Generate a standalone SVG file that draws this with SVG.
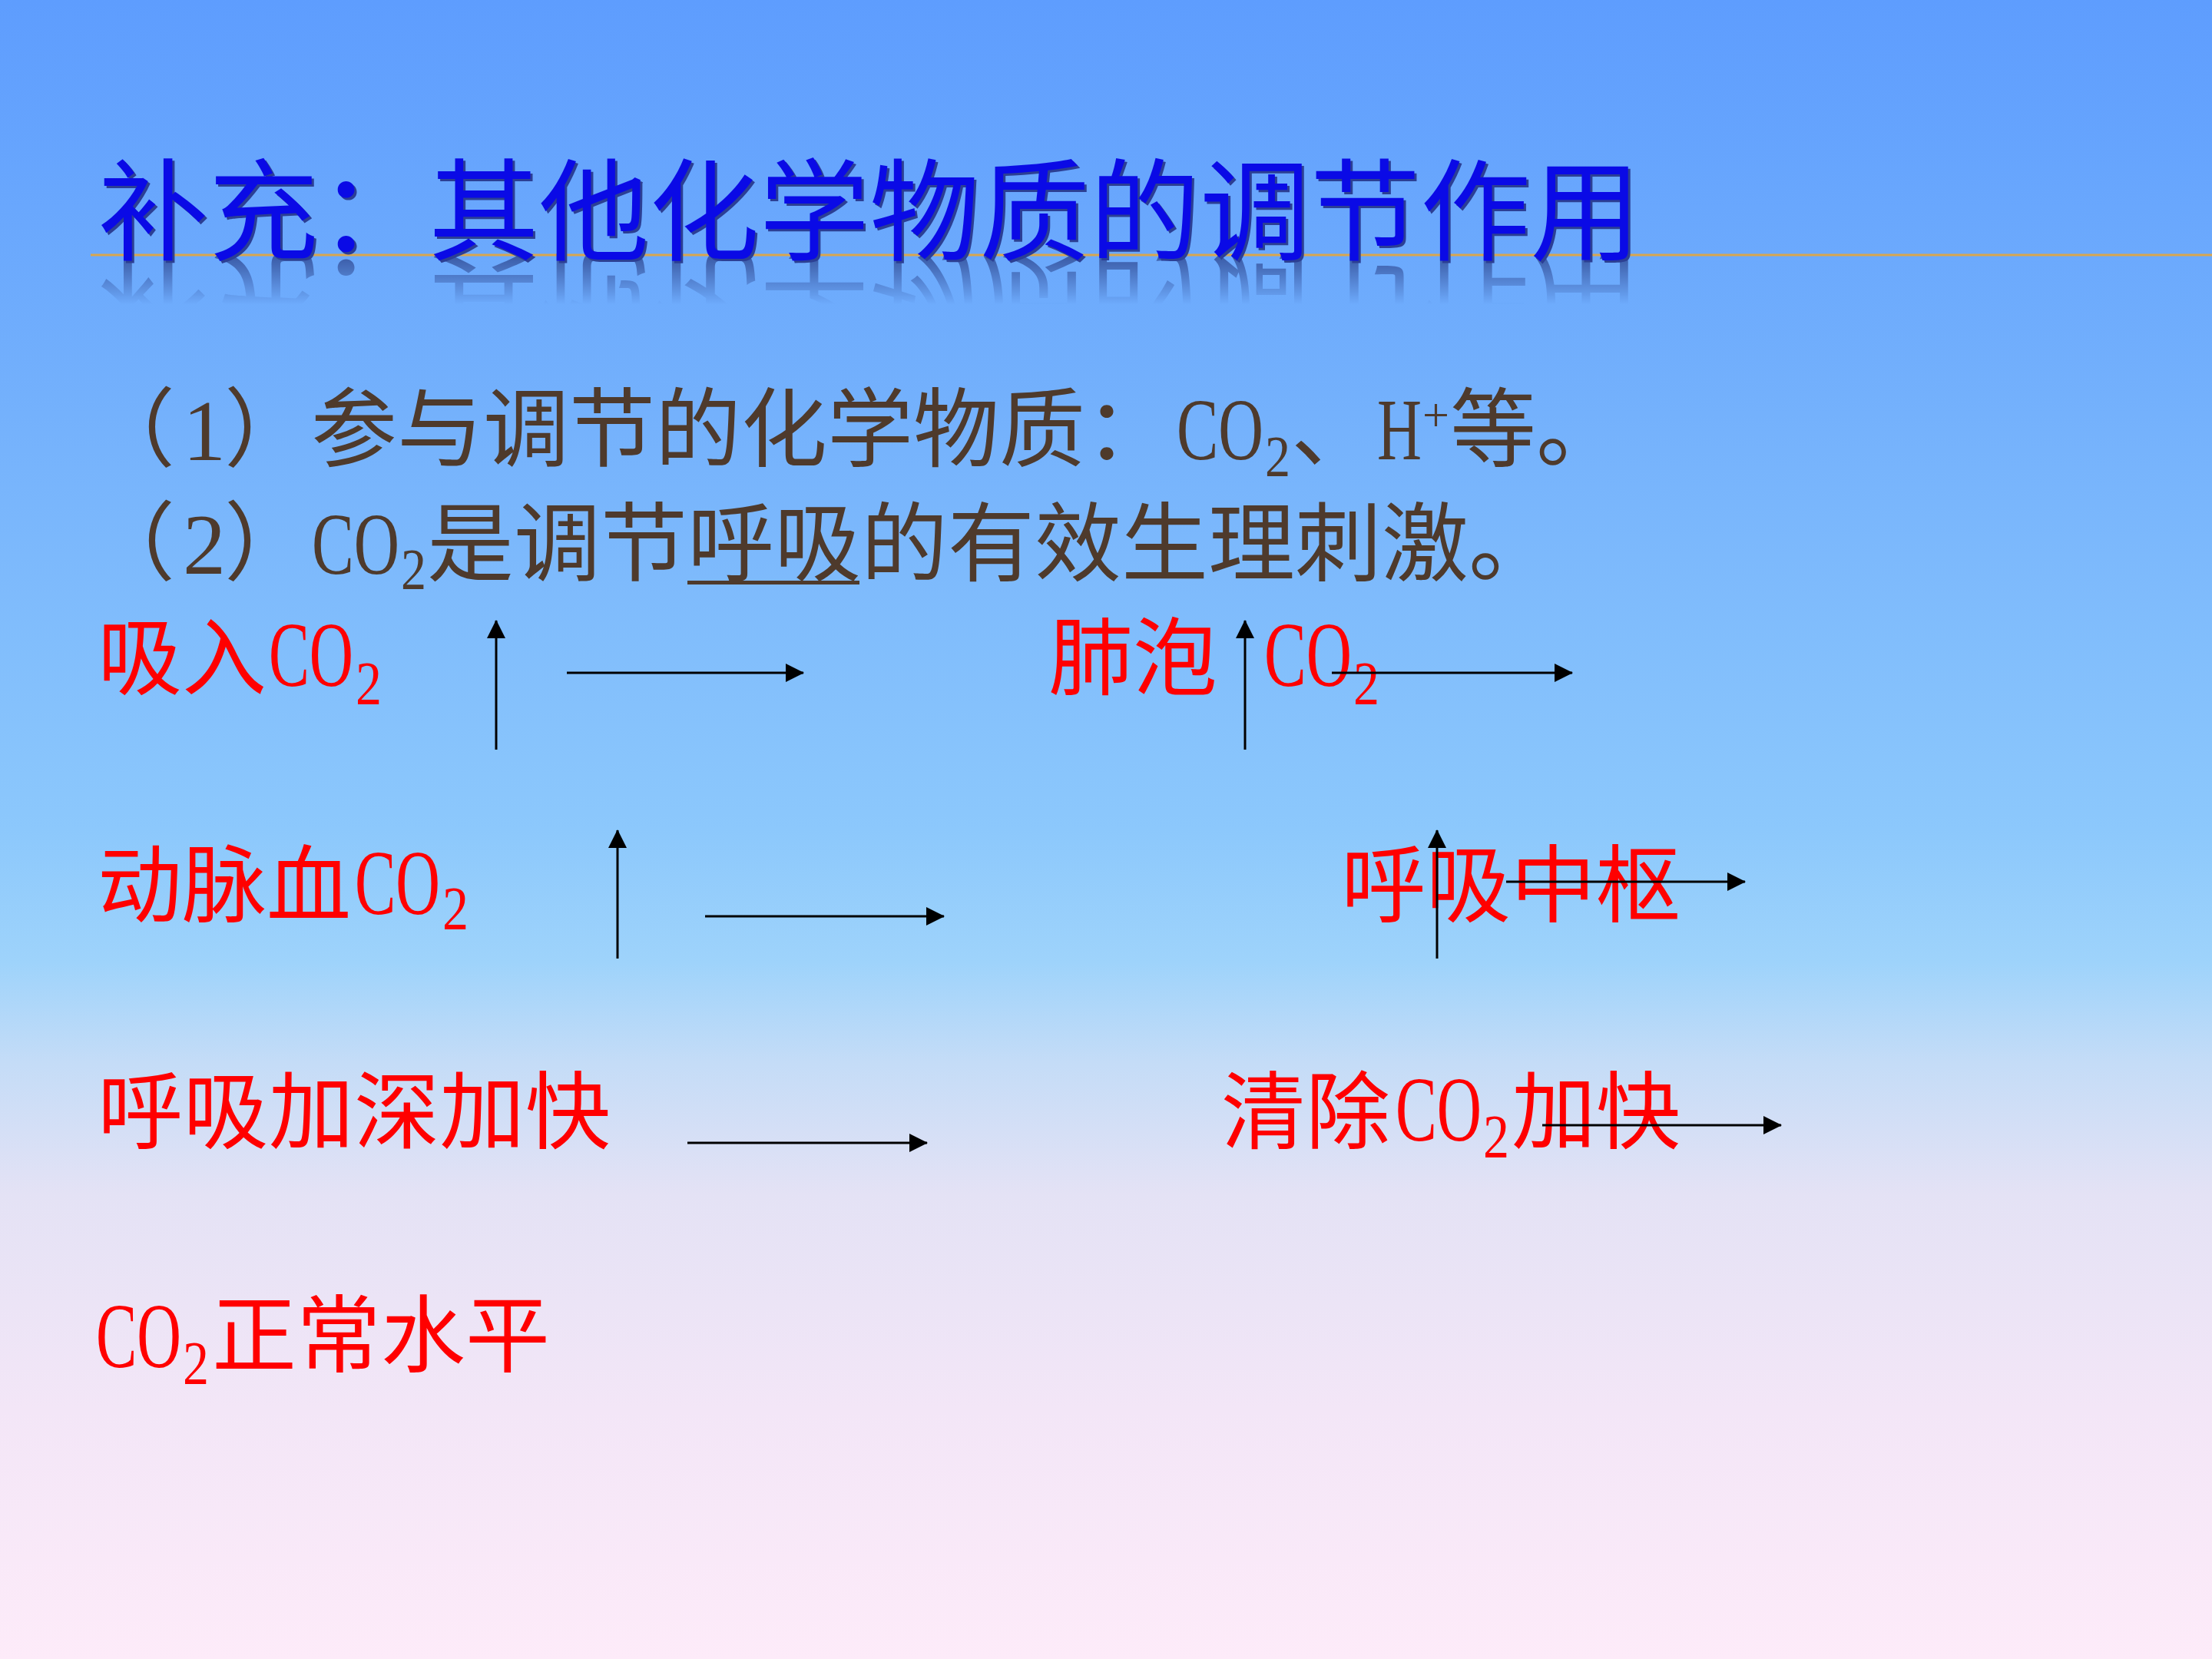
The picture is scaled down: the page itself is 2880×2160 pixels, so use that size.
<svg xmlns="http://www.w3.org/2000/svg" width="2880" height="2160" viewBox="0 0 2880 2160">
<defs>
<linearGradient id="bg" x1="0" y1="0" x2="0" y2="2160" gradientUnits="userSpaceOnUse">
<stop offset="0" stop-color="#5e9dfe"/>
<stop offset="0.25" stop-color="#74b1fc"/>
<stop offset="0.5" stop-color="#8cc8fc"/>
<stop offset="0.58" stop-color="#9ed3fb"/>
<stop offset="0.64" stop-color="#c4dcf7"/>
<stop offset="0.72" stop-color="#e4e2f5"/>
<stop offset="0.85" stop-color="#f3e6f7"/>
<stop offset="1" stop-color="#fdebf9"/>
</linearGradient>
<linearGradient id="reflGrad" x1="0" y1="336" x2="0" y2="396" gradientUnits="userSpaceOnUse">
<stop offset="0" stop-color="#fff" stop-opacity="0.85"/>
<stop offset="1" stop-color="#fff" stop-opacity="0"/>
</linearGradient>
<mask id="reflMask" maskUnits="userSpaceOnUse" x="0" y="330" width="2880" height="80">
<rect x="0" y="330" width="2880" height="80" fill="url(#reflGrad)"/>
</mask>
<marker id="ah" markerUnits="userSpaceOnUse" markerWidth="24" markerHeight="24" refX="23" refY="12" orient="auto" viewBox="0 0 24 24">
<path d="M0,0 L24,12 L0,24 Z" fill="#000"/>
</marker>
<style>
.title{font-family:"Noto Sans CJK SC",sans-serif;font-size:144px;font-weight:400}
.cn{font-family:"Liberation Serif","Noto Sans CJK SC",serif;font-size:112px;fill:#4e3a2c}
.lat{font-family:"Liberation Serif",serif;fill:#4e3a2c}
.rc{font-family:"Noto Sans CJK SC",sans-serif;font-size:110px;fill:#ff0000}
.rl{font-family:"Liberation Serif",serif;font-size:121px;fill:#ff0000}
.rs{font-family:"Liberation Serif",serif;font-size:80px;fill:#ff0000}
.arr{stroke:#000;stroke-width:3;fill:none;marker-end:url(#ah)}
</style>
</defs>
<rect x="0" y="0" width="2880" height="2160" fill="url(#bg)"/>

<g id="title">
<line x1="118" y1="332" x2="2880" y2="332" stroke="#d8a64e" stroke-width="3"/>
<g mask="url(#reflMask)">
<text class="title" x="128" y="328" textLength="2008" lengthAdjust="spacingAndGlyphs" fill="#34509a" transform="translate(0,666) scale(1,-1)">补充：其他化学物质的调节作用</text>
</g>
<text class="title" x="131" y="331" textLength="2008" lengthAdjust="spacingAndGlyphs" fill="#2c3f94">补充：其他化学物质的调节作用</text>
<text class="title" x="128" y="328" textLength="2008" lengthAdjust="spacingAndGlyphs" fill="#0a0ae6">补充：其他化学物质的调节作用</text>
</g>

<g id="line1">
<text class="cn" x="116" y="599">（</text>
<text class="lat" x="238" y="599" font-size="112">1</text>
<text class="cn" x="292" y="599">）</text>
<text class="cn" x="405" y="599">参与调节的化学物质：</text>
<text class="lat" x="1532" y="598" font-size="115" textLength="113" lengthAdjust="spacingAndGlyphs">CO</text>
<text class="lat" x="1647" y="620" font-size="77" textLength="33" lengthAdjust="spacingAndGlyphs">2</text>
<text class="cn" x="1681" y="599">、</text>
<text class="lat" x="1793" y="598" font-size="115" textLength="58" lengthAdjust="spacingAndGlyphs">H</text>
<text class="lat" x="1852" y="561" font-size="62">+</text>
<text class="cn" x="1888" y="599">等。</text>
</g>

<g id="line2">
<text class="cn" x="116" y="747">（</text>
<text class="lat" x="238" y="747" font-size="112">2</text>
<text class="cn" x="292" y="747">）</text>
<text class="lat" x="406" y="747" font-size="115" textLength="114" lengthAdjust="spacingAndGlyphs">CO</text>
<text class="lat" x="522" y="767" font-size="77" textLength="33" lengthAdjust="spacingAndGlyphs">2</text>
<text class="cn" x="556" y="748" textLength="1469" lengthAdjust="spacingAndGlyphs">是调节呼吸的有效生理刺激。</text>
<rect x="895" y="756" width="224" height="5" fill="#4e3a2c"/>
</g>

<g id="node-xiru">
<text class="rc" x="127" y="896">吸入</text>
<text class="rl" x="350" y="893" textLength="110" lengthAdjust="spacingAndGlyphs">CO</text>
<text class="rs" x="463" y="917" textLength="34" lengthAdjust="spacingAndGlyphs">2</text>
</g>
<g id="node-feipao">
<text class="rc" x="1365" y="896">肺泡</text>
<text class="rl" x="1646" y="893" textLength="114" lengthAdjust="spacingAndGlyphs">CO</text>
<text class="rs" x="1762" y="917" textLength="34" lengthAdjust="spacingAndGlyphs">2</text>
</g>
<g id="node-dongmai">
<text class="rc" x="127" y="1192">动脉血</text>
<text class="rl" x="462" y="1190" textLength="111" lengthAdjust="spacingAndGlyphs">CO</text>
<text class="rs" x="576" y="1210" textLength="34" lengthAdjust="spacingAndGlyphs">2</text>
</g>
<g id="node-zhongshu">
<text class="rc" x="1746" y="1192" textLength="442" lengthAdjust="spacingAndGlyphs">呼吸中枢</text>
</g>
<g id="node-huxi">
<text class="rc" x="127" y="1487" textLength="668" lengthAdjust="spacingAndGlyphs">呼吸加深加快</text>
</g>
<g id="node-qingchu">
<text class="rc" x="1590" y="1487">清除</text>
<text class="rl" x="1817" y="1485" textLength="112" lengthAdjust="spacingAndGlyphs">CO</text>
<text class="rs" x="1931" y="1507" textLength="34" lengthAdjust="spacingAndGlyphs">2</text>
<text class="rc" x="1968" y="1487">加快</text>
</g>
<g id="node-zhengchang">
<text class="rl" x="125" y="1780" textLength="111" lengthAdjust="spacingAndGlyphs">CO</text>
<text class="rs" x="238" y="1802" textLength="34" lengthAdjust="spacingAndGlyphs">2</text>
<text class="rc" x="276" y="1778">正常水平</text>
</g>

<g id="connectors">
<line class="arr" x1="646" y1="976" x2="646" y2="808"/>
<line class="arr" x1="738" y1="876" x2="1046" y2="876"/>
<line class="arr" x1="1621" y1="976" x2="1621" y2="808"/>
<line class="arr" x1="1734" y1="876" x2="2047" y2="876"/>
<line class="arr" x1="804" y1="1248" x2="804" y2="1081"/>
<line class="arr" x1="918" y1="1193" x2="1229" y2="1193"/>
<line class="arr" x1="1871" y1="1248" x2="1871" y2="1081"/>
<line class="arr" x1="1961" y1="1148" x2="2272" y2="1148"/>
<line class="arr" x1="895" y1="1488" x2="1207" y2="1488"/>
<line class="arr" x1="2008" y1="1465" x2="2319" y2="1465"/>
</g>
</svg>
